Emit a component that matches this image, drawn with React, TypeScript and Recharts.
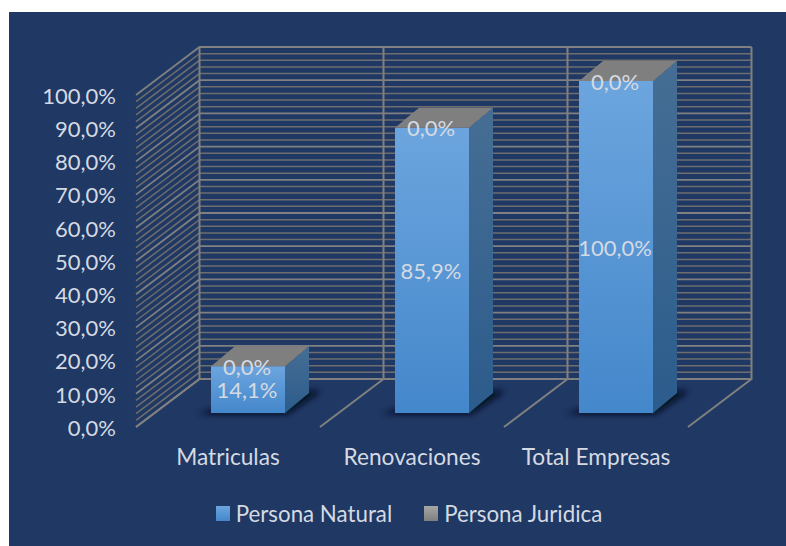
import React from 'react';
import { BarChart, Bar, XAxis, YAxis, CartesianGrid, Legend, LabelList } from 'recharts';

const categories = ['Matriculas', 'Renovaciones', 'Total Empresas'];
const personaNatural = [14.1, 85.9, 100.0];
const personaJuridica = [0.0, 0.0, 0.0];
const yTicks = [0, 10, 20, 30, 40, 50, 60, 70, 80, 90, 100];
const gridLevels = [
  0, 2, 4, 6, 8, 10, 12, 14, 16, 18, 20, 22, 24, 26, 28, 30, 32, 34, 36, 38, 40, 42, 44, 46, 48, 50,
  52, 54, 56, 58, 60, 62, 64, 66, 68, 70, 72, 74, 76, 78, 80, 82, 84, 86, 88, 90, 92, 94, 96, 98, 100,
];

const data = categories.map((name, i) => ({
  name,
  natural: personaNatural[i],
  juridica: personaJuridica[i],
}));

// 3D projection of the chart box and of the columns
const WALL_DX = 63.5;
const WALL_DY = 48;
const BAR_SHIFT_X = 20;
const BAR_SHIFT_Y = 14;
const BAR_DX = 24;
const BAR_DY = 20;

const TEXT = '#D5DAE2';
const FONT = 'Lato, sans-serif';
const GRID_MAJOR = '#808080';
const GRID_MINOR = '#6E6E6E';

const fmt = (v: number) => v.toFixed(1).replace('.', ',') + '%';

const GridH = (p: any) => {
  const major = Math.round((p.index ?? 0)) % 5 === 0;
  const { x1, x2, y1 } = p;
  return (
    <path
      key={p.key ?? y1}
      d={`M${x1},${y1} L${x1 + WALL_DX},${y1 - WALL_DY} L${x2 + WALL_DX},${y1 - WALL_DY}`}
      fill="none"
      stroke={major ? GRID_MAJOR : GRID_MINOR}
      strokeWidth={major ? 1.8 : 1.5}
    />
  );
};

const GridV = (p: any) => {
  const { x1, y1, y2 } = p;
  const top = Math.min(y1, y2);
  const bottom = Math.max(y1, y2);
  return (
    <path
      key={p.key ?? x1}
      d={`M${x1},${bottom} L${x1 + WALL_DX},${bottom - WALL_DY} L${x1 + WALL_DX},${top - WALL_DY}`}
      fill="none"
      stroke={GRID_MAJOR}
      strokeWidth={2}
    />
  );
};

const NaturalBar = (p: any) => {
  const x = p.x + BAR_SHIFT_X;
  const y = p.y - BAR_SHIFT_Y;
  const w = p.width;
  const h = p.height;
  const b = y + h;
  const r = x + w;
  return (
    <g>
      <path
        d={`M${x - 14},${b + 1} L${r + 2},${b + 1} L${r + BAR_DX + 12},${b - BAR_DY - 2} L${r},${b - BAR_DY - 2} L${x},${b - 3} Z`}
        fill="#060E1E"
        filter="url(#floorShadow)"
      />
      <path
        d={`M${r},${y} L${r + BAR_DX},${y - BAR_DY} L${r + BAR_DX},${b - BAR_DY} L${r},${b} Z`}
        fill="url(#sideGrad)"
      />
      <rect x={x} y={y} width={w} height={h} fill="url(#frontGrad)" />
    </g>
  );
};

const JuridicaBar = (p: any) => {
  const x = p.x + BAR_SHIFT_X;
  const y = p.y - BAR_SHIFT_Y;
  const r = x + p.width;
  return (
    <path
      d={`M${x},${y} L${x + BAR_DX},${y - BAR_DY} L${r + BAR_DX},${y - BAR_DY} L${r},${y} Z`}
      fill="#7F7F7F"
    />
  );
};

const BarLabel = (p: any) => {
  const cx = p.x + p.width / 2 + BAR_SHIFT_X - 1;
  const cy = p.y + p.height / 2 - BAR_SHIFT_Y;
  return (
    <text x={cx} y={cy} textAnchor="middle" dominantBaseline="central" fill={TEXT} fontSize={22} fontFamily={FONT}>
      {fmt(Number(p.value))}
    </text>
  );
};

const LegendContent = ({ payload }: any) => (
  <div
    style={{
      display: 'flex',
      justifyContent: 'center',
      alignItems: 'center',
      gap: 32,
      height: 30,
      fontFamily: FONT,
      fontSize: 22.3,
      color: TEXT,
      transform: 'translate(44px, -1px)',
    }}
  >
    {(payload ?? []).map((item: any) => (
      <div key={item.value} style={{ display: 'flex', alignItems: 'center', gap: 6 }}>
        <svg width={14} height={15} style={{ display: 'block' }}>
          <rect width={14} height={15} fill={item.color} />
        </svg>
        <span>{item.value}</span>
      </div>
    ))}
  </div>
);

export default function App() {
  return (
    <div style={{ position: 'absolute', left: 0, top: 0, width: 786, height: 546, background: '#fff', overflow: 'hidden' }}>
      <div style={{ position: 'absolute', left: 9, top: 12, width: 777, height: 534, background: '#1F3864' }} />
      <div style={{ position: 'absolute', left: 0, top: 0 }}>
        <BarChart
          width={786}
          height={546}
          data={data}
          barSize={74}
          margin={{ top: 95, right: 98, bottom: 49, left: 42 }}
        >
          <defs>
            <linearGradient id="frontGrad" x1="0" y1="0" x2="0" y2="1">
              <stop offset="0%" stopColor="#6CA5DE" />
              <stop offset="100%" stopColor="#4487CB" />
            </linearGradient>
            <linearGradient id="sideGrad" x1="0" y1="0" x2="0" y2="1">
              <stop offset="0%" stopColor="#466E94" />
              <stop offset="100%" stopColor="#2C5C8C" />
            </linearGradient>
            <linearGradient id="grayGrad" x1="0" y1="0" x2="0" y2="1">
              <stop offset="0%" stopColor="#A6A6A6" />
              <stop offset="100%" stopColor="#7F7F7F" />
            </linearGradient>
            <filter id="floorShadow" x="-30%" y="-60%" width="160%" height="220%">
              <feGaussianBlur stdDeviation="3" />
            </filter>
          </defs>
          <CartesianGrid
            horizontalValues={gridLevels}
            horizontal={GridH as any}
            vertical={GridV as any}
            verticalCoordinatesGenerator={({ offset }: any) =>
              categories.concat('').map((_, i) => offset.left + (offset.width * i) / categories.length)
            }
          />
          <XAxis
            dataKey="name"
            axisLine={false}
            tickLine={false}
            height={40}
            tick={{ fill: TEXT, fontSize: 22.7, fontFamily: FONT }}
            tickMargin={16}
            interval={0}
          />
          <YAxis
            width={94}
            domain={[0, 100]}
            ticks={yTicks}
            axisLine={false}
            tickLine={false}
            interval={0}
            tickFormatter={fmt}
            tick={{ fill: TEXT, fontSize: 22, fontFamily: FONT, dy: 1 }}
            tickMargin={14}
          />
          <Legend
            verticalAlign="bottom"
            align="center"
            height={30}
            wrapperStyle={{ bottom: 17 }}
            itemSorter={null}
            content={LegendContent as any}
          />
          <Bar dataKey="natural" name="Persona Natural" stackId="a" fill="url(#frontGrad)" shape={NaturalBar} isAnimationActive={false}>
            <LabelList dataKey="natural" content={BarLabel} />
          </Bar>
          <Bar dataKey="juridica" name="Persona Juridica" stackId="a" fill="url(#grayGrad)" shape={JuridicaBar} isAnimationActive={false}>
            <LabelList dataKey="juridica" content={BarLabel} />
          </Bar>
        </BarChart>
      </div>
    </div>
  );
}
